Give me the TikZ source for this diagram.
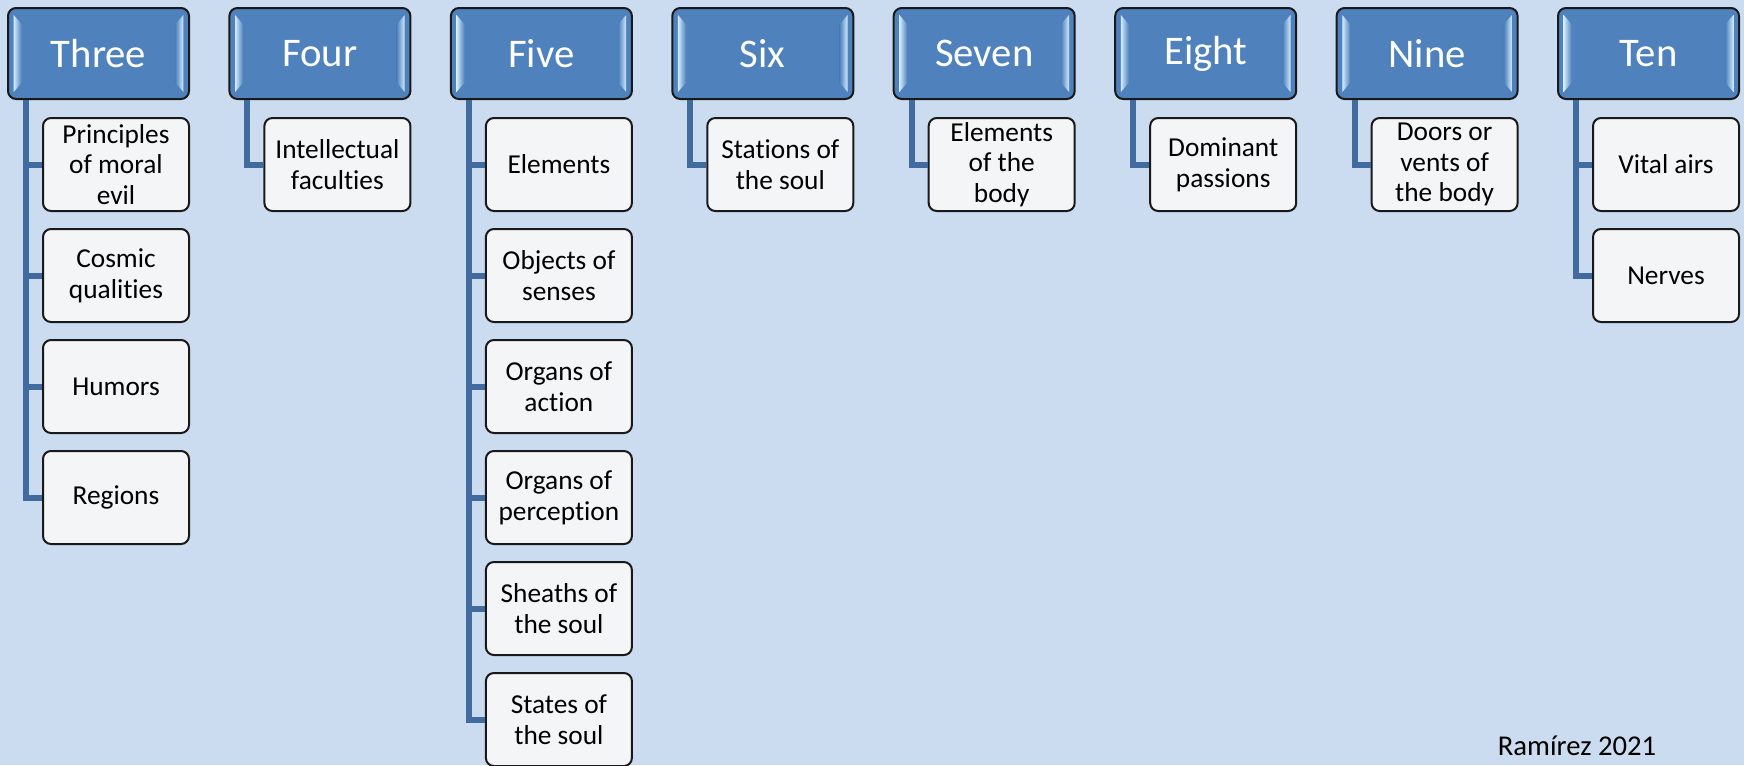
\documentclass[tikz,border=0pt]{standalone}
\usepackage{fontspec}
\setmainfont[Ligatures=NoCommon,RawFeature={-liga;-clig}]{Carlito}
\usetikzlibrary{calc}
\definecolor{bg}{RGB}{204,220,240}
\definecolor{hdrblue}{RGB}{79,129,189}
\definecolor{hdrlight}{RGB}{210,235,252}
\definecolor{linkblue}{RGB}{65,106,158}
\definecolor{childfill}{RGB}{244,245,247}
\definecolor{edgec}{RGB}{25,25,25}
\tikzset{
 hdr/.style={draw=edgec, line width=1.5pt, fill=hdrblue, rounded corners=6pt, minimum width=135.75pt, minimum height=68.25pt, inner sep=0pt, text=white, font=\fontsize{30.5}{34}\selectfont},
 child/.style={draw=edgec, line width=1.5pt, fill=childfill, rounded corners=6pt, minimum width=109.5pt, minimum height=69.75pt, inner sep=0pt, align=center, font=\fontsize{20.5}{23}\selectfont},
 link/.style={draw=linkblue, line width=4.5pt},
 credit/.style={font=\fontsize{21.5}{24}\selectfont, anchor=base, inner sep=0pt},
}
\newcommand\hdrbevel[1]{%
 \shade[left color=hdrlight, right color=hdrblue] ($(#1.north west)+(5pt,-6pt)$) -- ($(#1.north west)+(11pt,-13pt)$) -- ($(#1.south west)+(11pt,13pt)$) -- ($(#1.south west)+(5pt,6pt)$) -- cycle;
 \shade[right color=hdrlight, left color=hdrblue] ($(#1.north east)+(-5pt,-6pt)$) -- ($(#1.north east)+(-11pt,-13pt)$) -- ($(#1.south east)+(-11pt,13pt)$) -- ($(#1.south east)+(-5pt,6pt)$) -- cycle;
}
\begin{document}
\begin{tikzpicture}[x=0.75pt,y=-0.75pt]
\fill[bg] (0,0) rectangle (1744,765);
\useasboundingbox (0,0) rectangle (1744,765);

% headers
\node[hdr] (h3) at (98.5,53.5) {Three};
\node[hdr] (h4) at (319.9,53.5) {Four};
\node[hdr] (h5) at (541.4,53.5) {Five};
\node[hdr] (h6) at (762.8,53.5) {Six};
\node[hdr] (h7) at (984.2,53.5) {Seven};
\node[hdr] (h8) at (1205.7,53.5) {Eight};
\node[hdr] (h9) at (1427.1,53.5) {Nine};
\node[hdr] (h10) at (1648.5,53.5) {Ten};
\foreach \h in {h3,h4,h5,h6,h7,h8,h9,h10}{\hdrbevel{\h}}

% coordinates for the link stems
\foreach \h in {h3,h4,h5,h6,h7,h8,h9,h10}{
  \coordinate (\h s) at ($(\h.south west)+(14.25pt,0)$);
}

% children
\node[child] (c3a) at (116,164.5) {Principles\\of moral\\evil};
\node[child] (c3b) at (116,275.5) {Cosmic\\qualities};
\node[child] (c3c) at (116,386.5) {Humors};
\node[child] (c3d) at (116,497.5) {Regions};
\node[child] (c4a) at (337.4,164.5) {Intellectual\\faculties};
\node[child] (c5a) at (558.9,164.5) {Elements};
\node[child] (c5b) at (558.9,275.5) {Objects of\\senses};
\node[child] (c5c) at (558.9,386.5) {Organs of\\action};
\node[child] (c5d) at (558.9,497.5) {Organs of\\perception};
\node[child] (c5e) at (558.9,608.5) {Sheaths of\\the soul};
\node[child] (c5f) at (558.9,719.5) {States of\\the soul};
\node[child] (c6a) at (780.3,164.5) {Stations of\\the soul};
\node[child] (c7a) at (1001.7,164.5) {Elements\\of the\\body};
\node[child] (c8a) at (1223.2,164.5) {Dominant\\passions};
\node[child] (c9a) at (1444.6,164.5) {Doors or\\vents of\\the body};
\node[child] (c10a) at (1666.0,164.5) {Vital airs};
\node[child] (c10b) at (1666.0,275.5) {Nerves};

% links
\foreach \c in {c3a,c3b,c3c,c3d}{\draw[link] (h3s) |- (\c.west);}
\draw[link] (h4s) |- (c4a.west);
\foreach \c in {c5a,c5b,c5c,c5d,c5e,c5f}{\draw[link] (h5s) |- (\c.west);}
\draw[link] (h6s) |- (c6a.west);
\draw[link] (h7s) |- (c7a.west);
\draw[link] (h8s) |- (c8a.west);
\draw[link] (h9s) |- (c9a.west);
\foreach \c in {c10a,c10b}{\draw[link] (h10s) |- (\c.west);}

\node[credit] (credit) at (1577,755) {Ramírez 2021};
\end{tikzpicture}
\end{document}
